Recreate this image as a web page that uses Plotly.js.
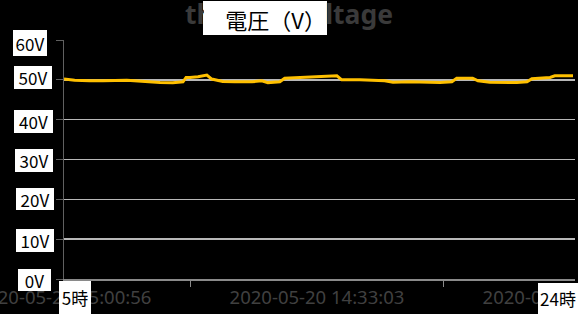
<!DOCTYPE html>
<html><head><meta charset="utf-8">
<script src="https://cdn.plot.ly/plotly-3.0.1.min.js"></script>
<style>html,body{margin:0;padding:0;background:#000;}#chart{width:578px;height:314px;}</style>
</head><body><div id="chart"></div>
<script>
// ---- data ----
const times = [
 '2020-05-20 05:00:56','2020-05-20 05:25','2020-05-20 05:59','2020-05-20 06:29','2020-05-20 07:23',
 '2020-05-20 07:59','2020-05-20 08:38','2020-05-20 09:07','2020-05-20 09:30','2020-05-20 09:37',
 '2020-05-20 09:46','2020-05-20 10:04','2020-05-20 10:24','2020-05-20 10:35','2020-05-20 10:47',
 '2020-05-20 11:00','2020-05-20 11:27','2020-05-20 12:06','2020-05-20 12:28','2020-05-20 12:42',
 '2020-05-20 13:09','2020-05-20 13:20','2020-05-20 13:43','2020-05-20 14:28','2020-05-20 15:18',
 '2020-05-20 15:29','2020-05-20 16:10','2020-05-20 17:06','2020-05-20 17:25','2020-05-20 18:03',
 '2020-05-20 19:11','2020-05-20 19:38','2020-05-20 19:49','2020-05-20 20:25','2020-05-20 20:37',
 '2020-05-20 21:04','2020-05-20 22:05','2020-05-20 22:28','2020-05-20 22:39','2020-05-20 23:20',
 '2020-05-20 23:31','2020-05-21 00:12'
];
const volts = [
 50.2,49.9,49.8,49.75,49.9,
 49.6,49.3,49.25,49.5,50.6,
 50.6,50.8,51.2,50.2,50.0,
 49.6,49.5,49.5,49.75,49.3,
 49.5,50.4,50.5,50.75,51.0,
 50.0,50.0,49.75,49.4,49.5,
 49.3,49.5,50.4,50.4,49.75,
 49.4,49.3,49.5,50.3,50.6,
 51.0,51.0
];
const xTickVals = ['2020-05-20 05:00:56','2020-05-20 14:33:03','2020-05-21 00:05:10'];
const xTickText = ['2020-05-20 05:00:56','2020-05-20 14:33:03','2020-05-21 00:05:10'];
const xMinorVals = ['2020-05-20 09:47:00','2020-05-20 19:19:06'];
const yTickVals = [0,10,20,30,40,50,60];
const yTickText = ['0V','10V','20V','30V','40V','50V','60V'];
const titleText = 'the Cell Voltage';
const overlayTitle = '電圧（V）';
const xOverlayText = ['5時','24時'];

// ---- layout helpers ----
const W=578,H=314,L=64,R=3,T=40,B=35;
const PW=W-L-R, PH=H-T-B;
const px=x=>(x-L)/PW, py=y=>(H-B-y)/PH;
const jp="'Noto Sans CJK JP', 'Noto Sans', sans-serif";

// white backing rectangle for the title overlay
const shapes = [{
  type:'rect', xref:'paper', yref:'paper', layer:'above',
  x0:px(203), x1:px(327), y0:py(35), y1:py(1),
  fillcolor:'#ffffff', line:{width:0}
}];

const annotations = [];
// title overlay box
annotations.push({text:overlayTitle, xref:'paper', yref:'paper', x:px(265), y:py(35),
  xanchor:'center', yanchor:'bottom', showarrow:false, bgcolor:'#ffffff',
  align:'right', valign:'bottom',
  borderwidth:0, borderpad:0, width:122, height:34,
  font:{family:jp, size:22, color:'#000'}});
// y label boxes
const yBox = [ // [centerX, yshift, width, height]
  [34.5,-0.5,33,22],[35,-1.5,38,23],[35,0,38,22],[34,-0.5,38,23],[33.5,-2.3,39,23],[33,2.7,38,23],[30,-3.3,34,26]
];
yTickVals.forEach((v,i)=>{
  const b=yBox[i];
  annotations.push({text:yTickText[i], xref:'paper', yref:'y', x:px(b[0]), y:v, yshift:b[1],
    xanchor:'center', yanchor:'middle', showarrow:false, bgcolor:'#ffffff',
    borderwidth:0, borderpad:0, width:b[2], height:b[3],
    font:{family:jp, size:17, color:'#000'}});
});
// x overlay boxes
const xBox = [[75,297.5,32,33],[558,298.5,40,31]];
xOverlayText.forEach((t,i)=>{
  const b=xBox[i];
  annotations.push({text:t, xref:'paper', yref:'paper', x:px(b[0]), y:py(b[1]),
    xanchor:'center', yanchor:'middle', showarrow:false, bgcolor:'#ffffff',
    borderwidth:0, borderpad:0, width:b[2], height:b[3],
    font:{family:jp, size:17, color:'#000'}});
});

const trace = {x:times, y:volts, type:'scatter', mode:'lines',
  line:{color:'#FFC000', width:3}, hoverinfo:'skip'};

const layout = {
  width:W, height:H, margin:{l:L,r:R,t:T,b:B},
  paper_bgcolor:'#000', plot_bgcolor:'#000', showlegend:false,
  title:{text:titleText, x:0.5, xanchor:'center', y:1-15/H, yanchor:'middle',
    font:{family:"'Noto Sans', sans-serif", size:26.5, color:'#3a3a3a', weight:'bold'}},
  xaxis:{type:'date', range:['2020-05-20 05:00:56','2020-05-21 00:16:30'],
    tickmode:'array', tickvals:xTickVals, ticktext:xTickText, ticks:'',
    ticklabeloverflow:'allow', ticklabelstandoff:1,
    tickfont:{family:"'Noto Sans', sans-serif", size:18.5, color:'#404040'},
    showgrid:false, zeroline:false, showline:true, linecolor:'#8a8a8a', linewidth:1.5,
    minor:{tickmode:'array', tickvals:xMinorVals, ticks:'outside', ticklen:6, tickcolor:'#8a8a8a', tickwidth:1, showgrid:false}},
  yaxis:{range:[0,60], tickmode:'array', tickvals:yTickVals, showticklabels:false,
    ticks:'outside', ticklen:7, tickcolor:'#606060', showline:true, linecolor:'#606060', linewidth:1,
    showgrid:true, gridcolor:'#b8b8b8', gridwidth:1.5, zeroline:false},
  shapes:shapes,
  annotations:annotations
};
Plotly.newPlot('chart',[trace],layout,{staticPlot:true,displayModeBar:false});
</script>
</body></html>
